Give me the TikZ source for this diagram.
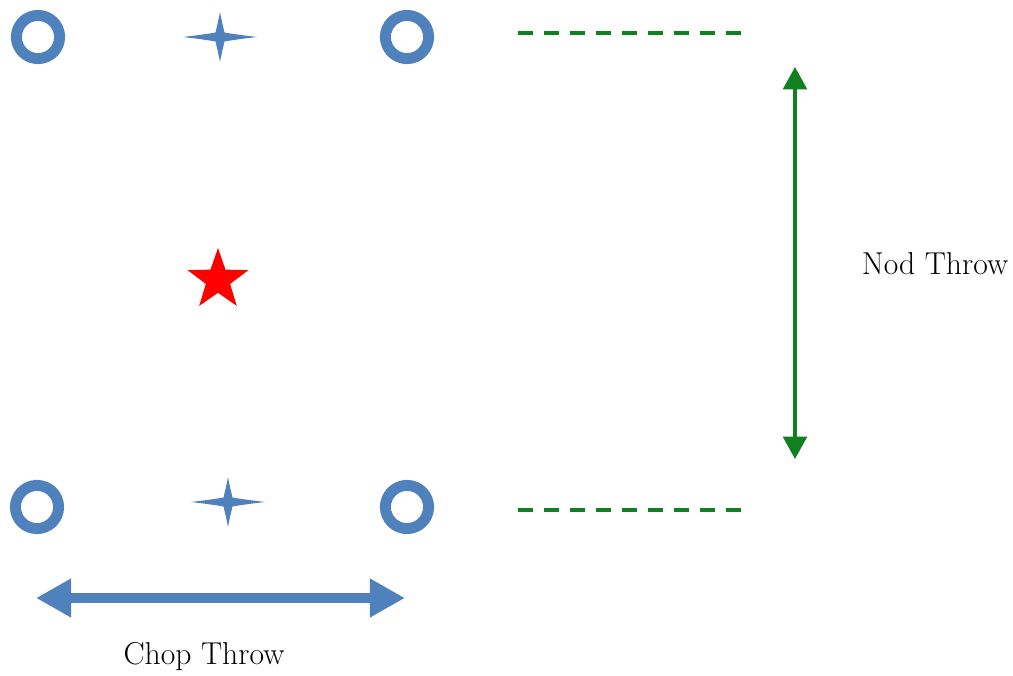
\documentclass[tikz,border=0pt]{standalone}
\usepackage{xcolor}
\usepackage{tikz}
\usetikzlibrary{arrows.meta,shapes.geometric}

\definecolor{markblue}{RGB}{79,129,189}
\definecolor{throwgreen}{RGB}{16,128,32}

\tikzset{
  ring/.style={circle, draw=markblue, line width=7.8pt, inner sep=0pt, minimum size=1.08cm},
  sparkle/.pic={\fill[markblue] (-37,0) .. controls (-16,-2.5) and (-7,-4) .. (-4.5,-4.5) .. controls (-4,-7) and (-2.5,-12) .. (0,-25) .. controls (2.5,-12) and (4,-7) .. (4.5,-4.5) .. controls (7,-4) and (16,-2.5) .. (37,0) .. controls (16,2.5) and (7,4) .. (4.5,4.5) .. controls (4,7) and (2.5,12) .. (0,25) .. controls (-2.5,12) and (-4,7) .. (-4.5,4.5) .. controls (-7,4) and (-16,2.5) .. cycle;},
  target/.style={star, star points=5, star point ratio=2.5, fill=red, inner sep=0pt, minimum size=1.6cm},
  level/.style={throwgreen, line width=2.6pt, dash pattern=on 10.7pt off 7.8pt},
  label/.style={font=\fontsize{22.5}{27}\selectfont}
}

\begin{document}
\begin{tikzpicture}[x=0.025cm, y=-0.025cm]
	\useasboundingbox (0,0) rectangle (1013,676);
	% top row
	\node[ring] (ringTL) at (38,37) {};%
	\pic (sparkTop) at (220,37) {sparkle};%
	\node[ring] (ringTR) at (407,37) {};%
	% centre
	\node[target] (centre) at (218,280) {};%
	% bottom row
	\node[ring] (ringBL) at (37,507) {};%
	\pic (sparkBot) at (228,502) {sparkle};%
	\node[ring] (ringBR) at (407,507) {};%
	% levels
	\coordinate (topA) at (518,33);
	\coordinate (topB) at (741,33);
	\coordinate (botA) at (518,510);
	\coordinate (botB) at (741,510);
	\draw[level] (topA) -- (topB);%
	\draw[level] (botA) -- (botB);%
	% nod throw
	\coordinate (nodUp) at (795,67);
	\coordinate (nodDown) at (795,459);
	\draw[throwgreen, line width=2.4pt, {Triangle[length=16pt,width=17pt]}-{Triangle[length=16pt,width=17pt]}] (nodUp) -- (nodDown);%
	\node[label] (nodText) at (935,264) {Nod Throw};%
	% chop throw
	\coordinate (chopL) at (36,598);
	\coordinate (chopR) at (405,598);
	\draw[markblue, line width=7pt, {Triangle[length=25pt,width=26pt]}-{Triangle[length=25pt,width=26pt]}] (chopL) -- (chopR);%
	\node[label] (chopText) at (204,657) {Chop Throw};%
\end{tikzpicture}
\end{document}
